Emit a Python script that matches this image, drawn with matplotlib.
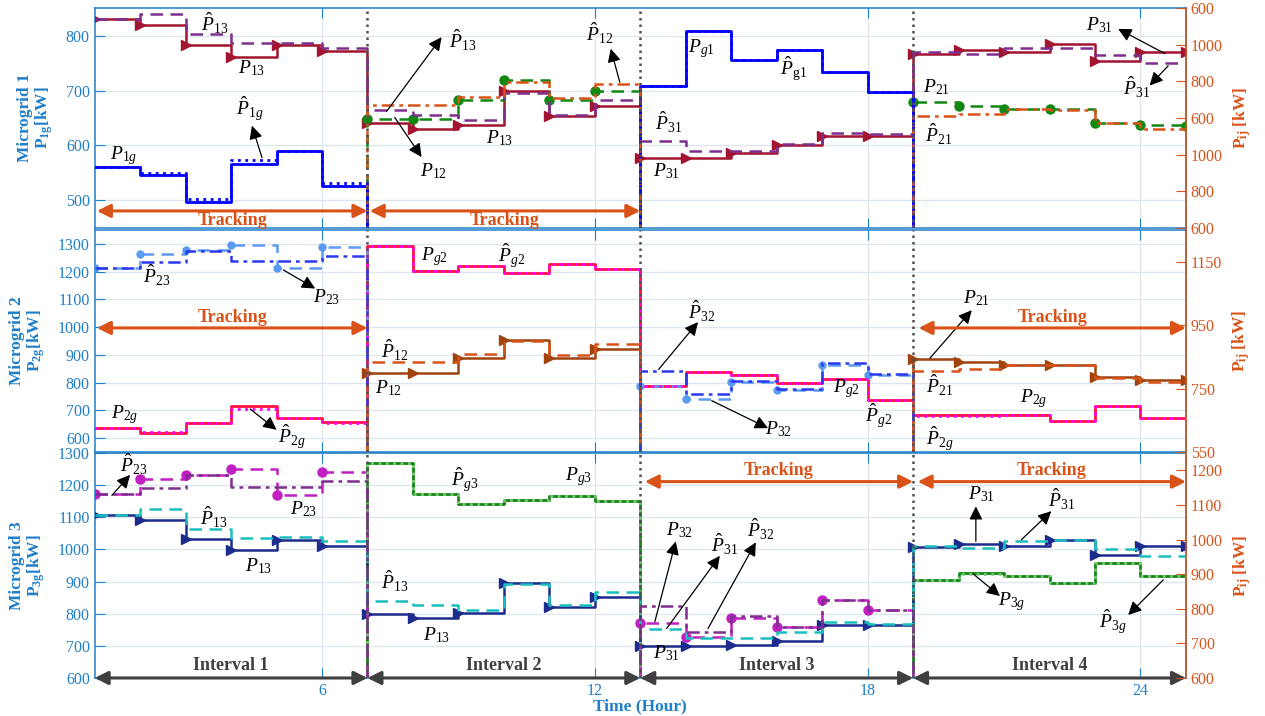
import numpy as np
import matplotlib.pyplot as plt

plt.rcParams['font.family'] = ['Liberation Serif', 'DejaVu Serif']
plt.rcParams['mathtext.fontset'] = 'custom'
plt.rcParams['mathtext.rm'] = 'Liberation Serif'
plt.rcParams['mathtext.it'] = 'Liberation Serif:italic'
plt.rcParams['mathtext.bf'] = 'Liberation Serif:bold'

hours = np.arange(1, 26)
hour_ticks = [6, 12, 18, 24]
interval_edges = [1, 7, 13, 19, 25]
interval_names = ['Interval 1', 'Interval 2', 'Interval 3', 'Interval 4']

# microgrid 1 (0 = quantity not used in that interval)
mg1_line = [830, 820, 783, 761, 782, 771, 640, 630, 638, 699, 653, 671,
            577, 577, 586, 600, 618, 618, 767, 773, 770, 785, 753, 770, 770]
mg1_line_ref = [830, 839, 802, 787, 786, 778, 664, 655, 647, 695, 655, 683,
                609, 590, 590, 603, 622, 620, 770, 767, 778, 778, 764, 750, 750]
mg1_p12 = [0, 0, 0, 0, 0, 0, 648, 648, 683, 719, 683, 700,
           0, 0, 0, 0, 0, 0, 679, 671, 667, 667, 641, 637, 636]
mg1_p12_ref = [0, 0, 0, 0, 0, 0, 673, 673, 689, 716, 686, 712,
               0, 0, 0, 0, 0, 0, 653, 658, 667, 665, 640, 630, 630]
mg1_gen = [561, 546, 497, 567, 590, 527, 0, 0, 0, 0, 0, 0,
           709, 809, 755, 773, 733, 697, 0, 0, 0, 0, 0, 0, 0]
mg1_gen_ref = [561, 550, 503, 573, 590, 531, 0, 0, 0, 0, 0, 0,
               709, 809, 755, 773, 733, 697, 0, 0, 0, 0, 0, 0, 0]

# microgrid 2
mg2_gen = [636, 620, 656, 714, 672, 659, 1293, 1203, 1221, 1194, 1228, 1208,
           787, 840, 828, 799, 813, 738, 683, 683, 683, 662, 717, 672, 672]
mg2_gen_ref = [636, 622, 656, 706, 672, 654, 1293, 1203, 1221, 1194, 1228, 1208,
               787, 840, 828, 799, 813, 738, 680, 681, 683, 662, 717, 672, 672]
mg2_p23 = [1214, 1263, 1278, 1296, 1212, 1287, 0, 0, 0, 0, 0, 0,
           787, 741, 804, 775, 864, 828, 0, 0, 0, 0, 0, 0, 0]
mg2_p23_ref = [1214, 1236, 1275, 1238, 1238, 1257, 0, 0, 0, 0, 0, 0,
               841, 759, 807, 777, 870, 832, 0, 0, 0, 0, 0, 0, 0]
mg2_p12 = [0, 0, 0, 0, 0, 0, 835, 835, 890, 952, 890, 920,
           0, 0, 0, 0, 0, 0, 886, 874, 864, 864, 819, 811, 811]
mg2_p12_ref = [0, 0, 0, 0, 0, 0, 876, 876, 904, 949, 898, 940,
               0, 0, 0, 0, 0, 0, 841, 850, 864, 864, 816, 804, 804]

# microgrid 3
mg3_gen = [0, 0, 0, 0, 0, 0, 1270, 1173, 1140, 1155, 1166, 1152,
           0, 0, 0, 0, 0, 0, 905, 926, 916, 897, 958, 918, 918]
mg3_gen_ref = [0, 0, 0, 0, 0, 0, 1270, 1173, 1140, 1155, 1166, 1152,
               0, 0, 0, 0, 0, 0, 906, 924, 916, 897, 958, 917, 917]
mg3_line = [1108, 1093, 1032, 999, 1030, 1012, 798, 786, 801, 895, 822, 853,
            699, 699, 704, 716, 765, 765, 1008, 1017, 1010, 1030, 983, 1010, 1010]
mg3_line_ref = [1108, 1126, 1064, 1036, 1039, 1027, 838, 827, 810, 893, 827, 869,
                752, 723, 723, 744, 773, 768, 1012, 1004, 1025, 1028, 1001, 980, 980]
mg3_p23 = [1174, 1220, 1233, 1249, 1169, 1241, 0, 0, 0, 0, 0, 0,
           772, 728, 786, 758, 843, 812, 0, 0, 0, 0, 0, 0, 0]
mg3_p23_ref = [1174, 1192, 1231, 1195, 1195, 1213, 0, 0, 0, 0, 0, 0,
               825, 744, 793, 759, 843, 810, 0, 0, 0, 0, 0, 0, 0]

# right axis tick labels
top_right_labels = ['600', '800', '1000', '600', '800', '1000', '600']
mid_right_ticks = [550, 750, 950, 1150]
bot_right_ticks = [600, 700, 800, 900, 1000, 1100, 1200]

BLUE = '#1f7fc8'
ORANGE = '#D95319'
GRAY = '#3f3f3f'


def stairs(ax, y, color, ls='-', lw=1.8, marker=None, ms=6, z=3):
    ax.step(hours, y, where='post', color=color, ls=ls, lw=lw,
            marker=marker, ms=ms, zorder=z)


def label(ax, txt, x, y):
    ax.text(x, y, txt, fontsize=14, ha='center', va='center', zorder=6)


def arrow(ax, x0, y0, x1, y1):
    ax.annotate('', xy=(x1, y1), xytext=(x0, y0),
                arrowprops=dict(arrowstyle='-|>', color='k', lw=0.9,
                                mutation_scale=20, shrinkA=0, shrinkB=0),
                zorder=6)


def span_arrow(ax, x0, x1, y, color, txt=None, ty=None):
    ax.annotate('', xy=(x1, y), xytext=(x0, y), annotation_clip=False,
                arrowprops=dict(arrowstyle='<|-|>', color=color, lw=2.2,
                                mutation_scale=20, shrinkA=0, shrinkB=0),
                zorder=7)
    if txt:
        ax.text((x0 + x1) / 2, ty, txt, color=color, fontsize=13,
                fontweight='bold', ha='center', va='center', zorder=7)


def style_axes(ax, ylim, yticks, ylabel):
    ax.set_xlim(1, 25)
    ax.set_ylim(*ylim)
    ax.set_yticks(yticks)
    ax.set_xticks(hour_ticks)
    ax.grid(True, color='#dde6ef', lw=0.9)
    ax.set_axisbelow(True)
    ax.tick_params(axis='both', direction='in', length=7, colors=BLUE,
                   labelsize=11.5, top=True)
    for s in ax.spines.values():
        s.set_color(BLUE)
        s.set_linewidth(1.1)
    ax.set_ylabel(ylabel, color=BLUE, fontsize=12.5, fontweight='bold',
                  labelpad=8, linespacing=1.0)
    for e in interval_edges[1:-1]:
        ax.axvline(e, color='#505050', ls=(0, (1, 1.6)), lw=1.8, zorder=5)


def right_axis(ax, ylim, ticks, labels=None):
    axr = ax.twinx()
    axr.set_ylim(*ylim)
    axr.set_yticks(ticks)
    if labels:
        axr.set_yticklabels(labels)
    axr.tick_params(axis='y', direction='in', length=7, colors=ORANGE,
                    labelsize=11.5)
    axr.spines['right'].set_color(ORANGE)
    axr.spines['right'].set_linewidth(1.1)
    for k in ['left', 'top', 'bottom']:
        axr.spines[k].set_visible(False)
    axr.set_ylabel(r'P$_{\mathbf{ij}}$ [kW]', color=ORANGE, fontsize=12.5,
                   fontweight='bold', labelpad=6)
    return axr


fig = plt.figure(figsize=(12.65, 7.16), dpi=100)
ax1 = fig.add_axes([0.0748, 0.6816, 0.8627, 0.3072])
ax2 = fig.add_axes([0.0748, 0.3687, 0.8627, 0.3101], sharex=ax1)
ax3 = fig.add_axes([0.0748, 0.0531, 0.8627, 0.3142], sharex=ax1)

# ---- microgrid 1
style_axes(ax1, (450, 850), [500, 600, 700, 800],
           'Microgrid 1\nP$_{\\mathbf{1g}}$[kW]')
right_axis(ax1, (0, 6), range(7), top_right_labels)
stairs(ax1, mg1_line, '#A2142F', marker='>', ms=7)
stairs(ax1, mg1_line_ref, '#7E2F8E', ls=(0, (5, 3)), z=4)
stairs(ax1, mg1_p12, '#118811', ls=(0, (5, 3)), marker='o', ms=6.5)
stairs(ax1, mg1_p12_ref, ORANGE, ls=(0, (5, 2, 1.5, 2)), z=4)
stairs(ax1, mg1_gen, '#0000FF', lw=2.0)
stairs(ax1, mg1_gen_ref, '#0000FF', ls=':', lw=2.0, z=4)
plt.setp(ax1.get_xticklabels(), visible=False)

label(ax1, r'$\hat{P}_{\mathrm{13}}$', 3.65, 822)
label(ax1, r'$P_{\mathit{13}}$', 4.46, 740)
label(ax1, r'$\hat{P}_{\mathit{1g}}$', 4.42, 666)
arrow(ax1, 4.68, 578, 4.46, 636)
label(ax1, r'$P_{\mathit{1g}}$', 1.63, 582)
span_arrow(ax1, 1.05, 7.0, 481, ORANGE, 'Tracking', 463)
label(ax1, r'$\hat{P}_{\mathrm{13}}$', 9.1, 791)
arrow(ax1, 7.42, 662, 8.63, 797)
label(ax1, r'$P_{\mathit{12}}$', 8.45, 553)
arrow(ax1, 7.6, 651, 8.19, 579)
label(ax1, r'$P_{\mathit{13}}$', 9.91, 613)
label(ax1, r'$\hat{P}_{\mathrm{12}}$', 12.11, 803)
arrow(ax1, 12.55, 715, 12.35, 776)
span_arrow(ax1, 7.05, 13.0, 481, ORANGE, 'Tracking', 463)
label(ax1, r'$P_{\mathit{g1}}$', 14.35, 777)
label(ax1, r'$\hat{P}_{\mathrm{g1}}$', 16.36, 739)
label(ax1, r'$\hat{P}_{\mathrm{31}}$', 13.61, 642)
label(ax1, r'$P_{\mathit{31}}$', 13.58, 553)
label(ax1, r'$P_{\mathit{21}}$', 19.52, 706)
label(ax1, r'$\hat{P}_{\mathrm{21}}$', 19.55, 621)
label(ax1, r'$P_{\mathit{31}}$', 23.1, 818)
arrow(ax1, 24.54, 767, 23.51, 812)
label(ax1, r'$\hat{P}_{\mathrm{31}}$', 23.91, 706)
arrow(ax1, 24.61, 745, 24.2, 709)

# ---- microgrid 2
style_axes(ax2, (550, 1350), np.arange(600, 1301, 100),
           'Microgrid 2\nP$_{\\mathbf{2g}}$[kW]')
right_axis(ax2, (550, 1250), mid_right_ticks)
stairs(ax2, mg2_gen, '#FF1040', lw=2.0)
stairs(ax2, mg2_gen_ref, '#FF00FF', ls=':', lw=2.0, z=4)
stairs(ax2, mg2_p23, '#5a9af0', ls=(0, (5, 3)), marker='o', ms=5)
stairs(ax2, mg2_p23_ref, '#2a38f0', ls=(0, (5, 2, 1.5, 2)), z=4)
stairs(ax2, mg2_p12, '#A0430E', marker='>', ms=7)
stairs(ax2, mg2_p12_ref, ORANGE, ls=(0, (5, 3)), z=4)
plt.setp(ax2.get_xticklabels(), visible=False)

label(ax2, r'$\hat{P}_{\mathrm{23}}$', 2.37, 1188)
label(ax2, r'$P_{\mathit{23}}$', 6.1, 1109)
arrow(ax2, 5.15, 1206, 5.85, 1139)
span_arrow(ax2, 1.05, 7.0, 997, ORANGE, 'Tracking', 1033)
label(ax2, r'$P_{\mathit{2g}}$', 1.67, 685)
label(ax2, r'$\hat{P}_{\mathit{2g}}$', 5.33, 606)
arrow(ax2, 4.42, 705, 5.0, 630)
label(ax2, r'$P_{\mathit{g2}}$', 8.48, 1254)
label(ax2, r'$\hat{P}_{\mathit{g2}}$', 10.17, 1258)
label(ax2, r'$\hat{P}_{\mathrm{12}}$', 7.6, 916)
label(ax2, r'$P_{\mathit{12}}$', 7.46, 781)
label(ax2, r'$\hat{P}_{\mathrm{32}}$', 14.35, 1055)
arrow(ax2, 13.4, 847, 14.27, 1018)
label(ax2, r'$P_{\mathit{32}}$', 16.03, 632)
arrow(ax2, 14.57, 735, 15.81, 636)
label(ax2, r'$P_{\mathit{g2}}$', 17.54, 777)
label(ax2, r'$\hat{P}_{\mathit{g2}}$', 18.23, 681)
label(ax2, r'$P_{\mathit{21}}$', 20.4, 1103)
arrow(ax2, 19.37, 888, 20.29, 1061)
span_arrow(ax2, 19.12, 25.0, 997, ORANGE, 'Tracking', 1035)
label(ax2, r'$\hat{P}_{\mathrm{21}}$', 19.59, 789)
label(ax2, r'$P_{\mathit{2g}}$', 21.64, 741)
label(ax2, r'$\hat{P}_{\mathit{2g}}$', 19.59, 596)

# ---- microgrid 3
style_axes(ax3, (600, 1300), np.arange(600, 1301, 100),
           'Microgrid 3\nP$_{\\mathbf{3g}}$[kW]')
right_axis(ax3, (600, 1250), bot_right_ticks)
stairs(ax3, mg3_gen, '#118811', lw=2.0)
stairs(ax3, mg3_gen_ref, '#7ac97a', ls=':', lw=2.0, z=4)
stairs(ax3, mg3_line, '#1c2b8c', marker='>', ms=7)
stairs(ax3, mg3_line_ref, '#1ABFBF', ls=(0, (5, 3)), z=4)
stairs(ax3, mg3_p23, '#C21FC2', ls=(0, (5, 3)), marker='o', ms=6.5)
stairs(ax3, mg3_p23_ref, '#7E2F8E', ls=(0, (5, 2, 1.5, 2)), z=4)
ax3.set_xlabel('Time (Hour)', color=BLUE, fontsize=12.5, fontweight='bold',
               labelpad=0)

label(ax3, r'$\hat{P}_{\mathrm{23}}$', 1.85, 1265)
arrow(ax3, 1.38, 1168, 1.78, 1232)
label(ax3, r'$\hat{P}_{\mathrm{13}}$', 3.61, 1098)
label(ax3, r'$P_{\mathit{13}}$', 4.6, 947)
label(ax3, r'$P_{\mathit{23}}$', 5.59, 1124)
label(ax3, r'$\hat{P}_{\mathit{g3}}$', 9.14, 1218)
label(ax3, r'$P_{\mathit{g3}}$', 11.64, 1228)
label(ax3, r'$\hat{P}_{\mathrm{13}}$', 7.6, 900)
label(ax3, r'$P_{\mathit{13}}$', 8.51, 733)
span_arrow(ax3, 13.1, 19.0, 1211, ORANGE, 'Tracking', 1246)
label(ax3, r'$P_{\mathit{32}}$', 13.87, 1061)
arrow(ax3, 13.32, 775, 13.78, 1025)
label(ax3, r'$\hat{P}_{\mathrm{31}}$', 14.86, 1015)
arrow(ax3, 13.58, 754, 14.75, 980)
label(ax3, r'$\hat{P}_{\mathrm{32}}$', 15.65, 1061)
arrow(ax3, 14.49, 754, 15.54, 1022)
label(ax3, r'$P_{\mathit{31}}$', 13.58, 676)
span_arrow(ax3, 19.1, 25.0, 1211, ORANGE, 'Tracking', 1246)
label(ax3, r'$P_{\mathit{31}}$', 20.5, 1171)
arrow(ax3, 20.38, 1025, 20.38, 1134)
label(ax3, r'$\hat{P}_{\mathrm{31}}$', 22.26, 1155)
arrow(ax3, 21.38, 1030, 22.04, 1119)
label(ax3, r'$P_{\mathit{3g}}$', 21.16, 837)
arrow(ax3, 20.32, 924, 20.91, 855)
label(ax3, r'$\hat{P}_{\mathit{3g}}$', 23.4, 775)
arrow(ax3, 24.5, 905, 23.73, 796)

for k, name in enumerate(interval_names):
    x0, x1 = interval_edges[k], interval_edges[k + 1]
    span_arrow(ax3, x0, x1, 600, GRAY, name, 640)

fig.savefig('out.png', dpi=100)
